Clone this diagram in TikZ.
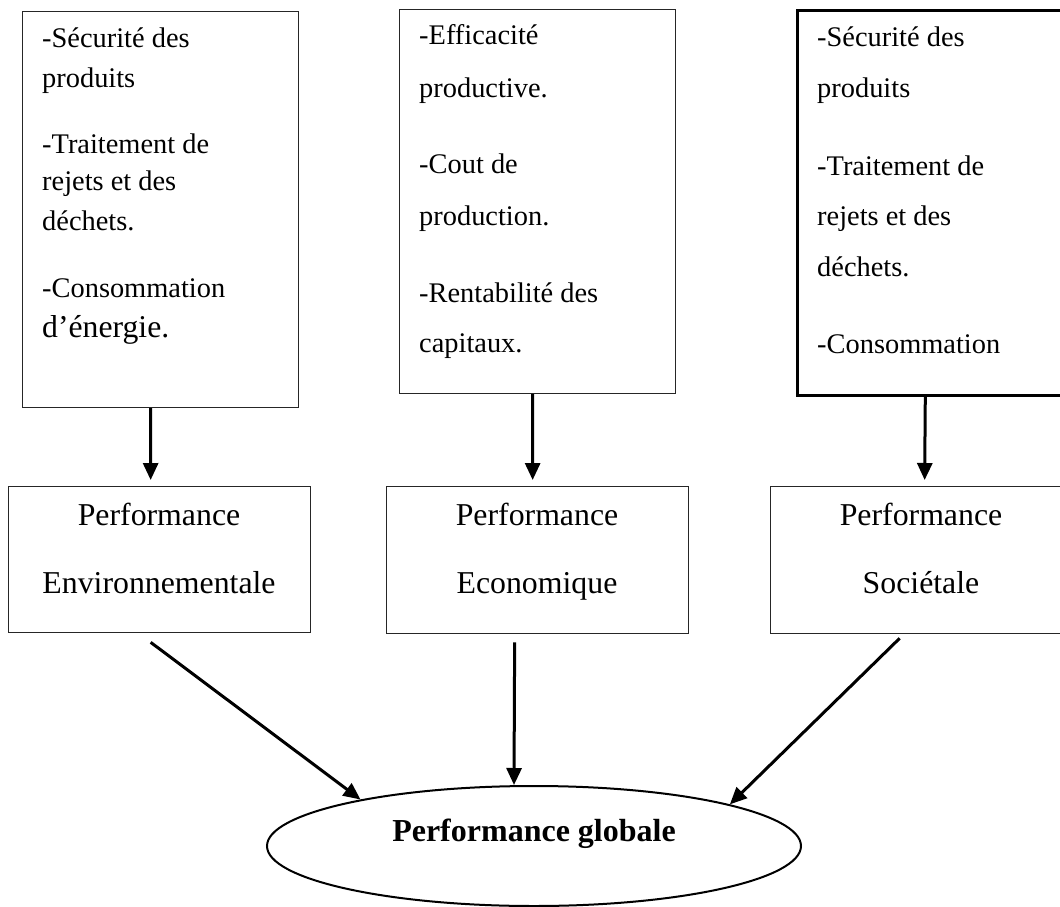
\documentclass[tikz,border=0pt]{standalone}
\usepackage{fontspec}
\setmainfont{Liberation Serif}
\usetikzlibrary{arrows.meta,shapes.geometric}

\tikzset{
  listbox/.style={draw=black!85, line width=1.2pt, inner sep=0pt, anchor=north west},
  perfbox/.style={draw=black!85, line width=1.3pt, inner sep=0pt, anchor=north west,
                  minimum width=302pt, minimum height=147pt},
  item/.style={anchor=base west, inner sep=0pt, font=\fontsize{28.4}{34}\selectfont},
  bigitem/.style={anchor=base west, inner sep=0pt, font=\fontsize{31.7}{38}\selectfont},
  perftext/.style={anchor=base, inner sep=0pt, font=\fontsize{31.8}{38}\selectfont},
  globale/.style={ellipse, draw, line width=2pt, inner sep=0pt,
                  minimum width=534pt, minimum height=120pt,
                  text height=22pt, text depth=32pt,
                  font=\fontsize{32}{38}\selectfont\bfseries},
  flow/.style={line width=3pt, -{Triangle[length=17pt,width=15pt]}}
}

\begin{document}
\begin{tikzpicture}[x=1pt,y=-1pt]
  \fill[white] (0,0) rectangle (1060,907);
  \clip (0,0) rectangle (1060,907);

  % upper boxes listing the indicators
  \node[listbox, minimum width=276pt, minimum height=396pt] (t1) at (22,11) {};
  \node[listbox, minimum width=276pt, minimum height=384pt] (t2) at (399,9) {};
  \node[listbox, draw=black, line width=2.6pt, minimum width=290pt, minimum height=385pt] (t3) at (796,9) {};

  \foreach \y/\t [count=\i] in {48/{-Sécurité des}, 88/produits, 153/{-Traitement de},
      190/{rejets et des}, 230/déchets., 297/-Consommation}
    \node[item] (a\i) at (42,\y) {\t};
  \node[bigitem] (a7) at (42,337) {d’énergie.};

  \foreach \y/\t [count=\i] in {45/-Efficacité, 97/productive., 173/{-Cout de},
      225/production., 302/{-Rentabilité des}, 352/capitaux.}
    \node[item] (b\i) at (419,\y) {\t};

  \foreach \y/\t [count=\i] in {47/{-Sécurité des}, 97/produits, 175/{-Traitement de},
      225/{rejets et des}, 276/déchets., 353/-Consommation}
    \node[item] (c\i) at (817,\y) {\t};

  % the three dimensions of performance
  \node[perfbox, minimum height=146pt] (m1) at (8,486) {};
  \node[perfbox] (m2) at (386,486) {};
  \node[perfbox] (m3) at (770,486) {};

  \node[perftext] (m1a) at (159,525) {Performance};
  \node[perftext] (m1b) at (159,593) {Environnementale};
  \node[perftext] (m2a) at (537,525) {Performance};
  \node[perftext] (m2b) at (537,593) {Economique};
  \node[perftext] (m3a) at (921,525) {Performance};
  \node[perftext] (m3b) at (921,593) {Sociétale};

  % overall performance
  \node[globale] (g) at (534,846) {Performance globale};

  % connectors
  \draw[flow] ([xshift=-10pt]t1.south) -- ([xshift=-9pt,yshift=6pt]m1.north);
  \draw[flow] ([xshift=-5pt]t2.south) -- ([xshift=-5pt,yshift=6pt]m2.north);
  \draw[flow] ([xshift=-17pt]t3.south) -- ([xshift=3pt,yshift=6pt]m3.north);

  \draw[flow] ([xshift=-9pt,yshift=-9pt]m1.south) -- (g.165.4);
  \draw[flow] ([xshift=-23pt,yshift=-8pt]m2.south) -- ([xshift=-20pt]g.north);
  \draw[flow] ([xshift=-22pt,yshift=-4pt]m3.south) -- (g.12.7);
\end{tikzpicture}
\end{document}
